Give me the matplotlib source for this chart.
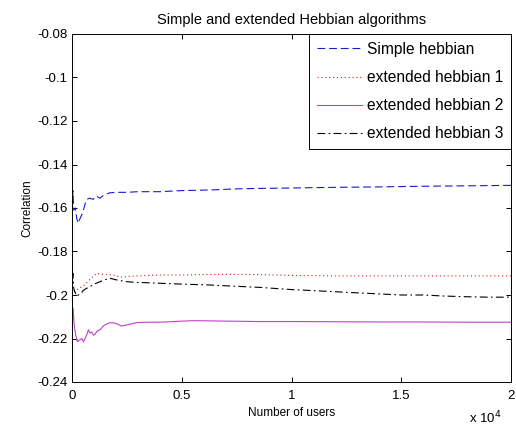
import matplotlib
matplotlib.use('Agg')
import matplotlib.pyplot as plt
from matplotlib.ticker import FuncFormatter

plt.rcParams['font.family'] = ['Liberation Sans', 'DejaVu Sans']
plt.rcParams['axes.unicode_minus'] = False

# Simple hebbian
x_simple = [0, 20, 40, 80, 150, 220, 290, 360, 450, 520, 600, 680, 800, 970, 1100,
            1275, 1450, 1730, 2000, 2500, 3000, 4000, 5000, 6300, 7500, 8500,
            10000, 12000, 14000, 16000, 18000, 20000]
y_simple = [-0.145, -0.158, -0.152, -0.161, -0.160, -0.165, -0.167, -0.165, -0.163,
            -0.161, -0.158, -0.156, -0.1555, -0.156, -0.1545, -0.1555, -0.154,
            -0.153, -0.1528, -0.1528, -0.1525, -0.1525, -0.152, -0.1517, -0.1512,
            -0.151, -0.1508, -0.1505, -0.1503, -0.150, -0.1498, -0.1496]

# extended hebbian 1
x_ext1 = [0, 50, 150, 300, 500, 700, 900, 1125, 1400, 1880, 2200, 2560, 3000, 4000,
          5000, 6000, 7500, 9000, 10000, 12000, 14000, 16000, 18000, 20000]
y_ext1 = [-0.196, -0.199, -0.198, -0.197, -0.196, -0.194, -0.192, -0.190, -0.1905,
          -0.1908, -0.1918, -0.1915, -0.1912, -0.1908, -0.1908, -0.1906, -0.1905,
          -0.1907, -0.191, -0.1912, -0.1912, -0.1912, -0.1912, -0.1912]

# extended hebbian 2
x_ext2 = [0, 20, 50, 100, 180, 250, 300, 380, 450, 520, 600, 680, 750, 820, 900,
          980, 1050, 1150, 1275, 1450, 1730, 2000, 2260, 2600, 2950, 3500, 4000,
          5500, 7000, 8500, 10000, 12000, 14000, 16000, 18000, 20000]
y_ext2 = [-0.201, -0.212, -0.206, -0.214, -0.219, -0.2215, -0.221, -0.2205, -0.220,
          -0.2215, -0.220, -0.218, -0.216, -0.2175, -0.217, -0.2185, -0.218,
          -0.2165, -0.216, -0.214, -0.2127, -0.213, -0.2143, -0.2135, -0.2127,
          -0.2125, -0.2125, -0.2118, -0.212, -0.2122, -0.2122, -0.2123, -0.2124,
          -0.2124, -0.2125, -0.2125]

# extended hebbian 3
x_ext3 = [0, 15, 40, 80, 150, 220, 290, 400, 500, 650, 820, 1000, 1275, 1500, 1730,
          2000, 2490, 3000, 4000, 5000, 6290, 7500, 8560, 10000, 11000, 12000,
          13000, 14000, 15000, 16000, 17000, 18000, 19000, 20000]
y_ext3 = [-0.184, -0.195, -0.190, -0.197, -0.199, -0.2005, -0.200, -0.1995, -0.198,
          -0.197, -0.1962, -0.195, -0.1939, -0.193, -0.1923, -0.193, -0.1939,
          -0.1942, -0.1946, -0.195, -0.1954, -0.196, -0.1965, -0.1975, -0.198,
          -0.1985, -0.199, -0.1995, -0.200, -0.200, -0.2005, -0.2008, -0.201, -0.201]

labels = ['Simple hebbian', 'extended hebbian 1', 'extended hebbian 2', 'extended hebbian 3']
x_ticks = [0, 5000, 10000, 15000, 20000]
y_ticks = [-0.24, -0.22, -0.2, -0.18, -0.16, -0.14, -0.12, -0.1, -0.08]

fig = plt.figure(figsize=(5.16, 4.25), dpi=100)
ax = fig.add_axes([72/516, 1-382/425, (511-72)/516, (382-34)/425])

lw = 0.8
ax.plot(x_simple, y_simple, color='#1a1acc', lw=lw, linestyle=(0, (7, 3.5)), label=labels[0])
ax.plot(x_ext1, y_ext1, color='#d02020', lw=lw, linestyle=(0, (1, 2.5)), label=labels[1])
ax.plot(x_ext2, y_ext2, color='#c040c8', lw=lw, linestyle='-', label=labels[2])
ax.plot(x_ext3, y_ext3, color='black', lw=lw, linestyle=(0, (7, 3, 1.5, 3)), label=labels[3])

ax.set_xlim(0, 20000)
ax.set_ylim(-0.24, -0.08)
ax.set_xticks(x_ticks)
ax.set_yticks(y_ticks)
ax.xaxis.set_major_formatter(FuncFormatter(lambda v, p: '%g' % (v / 1e4)))
ax.yaxis.set_major_formatter(FuncFormatter(lambda v, p: '%g' % round(v, 2)))
ax.tick_params(direction='in', length=3.6, width=0.7, top=True, right=True,
               labelsize=9.5, colors='black')
ax.tick_params(axis='x', pad=6)
ax.tick_params(axis='y', pad=3)
for s in ax.spines.values():
    s.set_linewidth(0.7)

ax.set_title('Simple and extended Hebbian algorithms', fontsize=10.5, pad=7)
ax.set_xlabel('Number of users', fontsize=8.5, labelpad=3)
ax.set_ylabel('Correlation', fontsize=8.5, labelpad=3)
ax.text(0.905, -0.103, r'x 10$^{4}$', transform=ax.transAxes, fontsize=9.5, va='center')

leg = ax.legend(loc='upper right', fontsize=11.2, fancybox=False, edgecolor='black',
                framealpha=1, borderaxespad=0, handlelength=2.9, handletextpad=0.3,
                labelspacing=0.85, borderpad=0.5)
leg.get_frame().set_linewidth(0.7)

fig.savefig('out.png', dpi=100)
